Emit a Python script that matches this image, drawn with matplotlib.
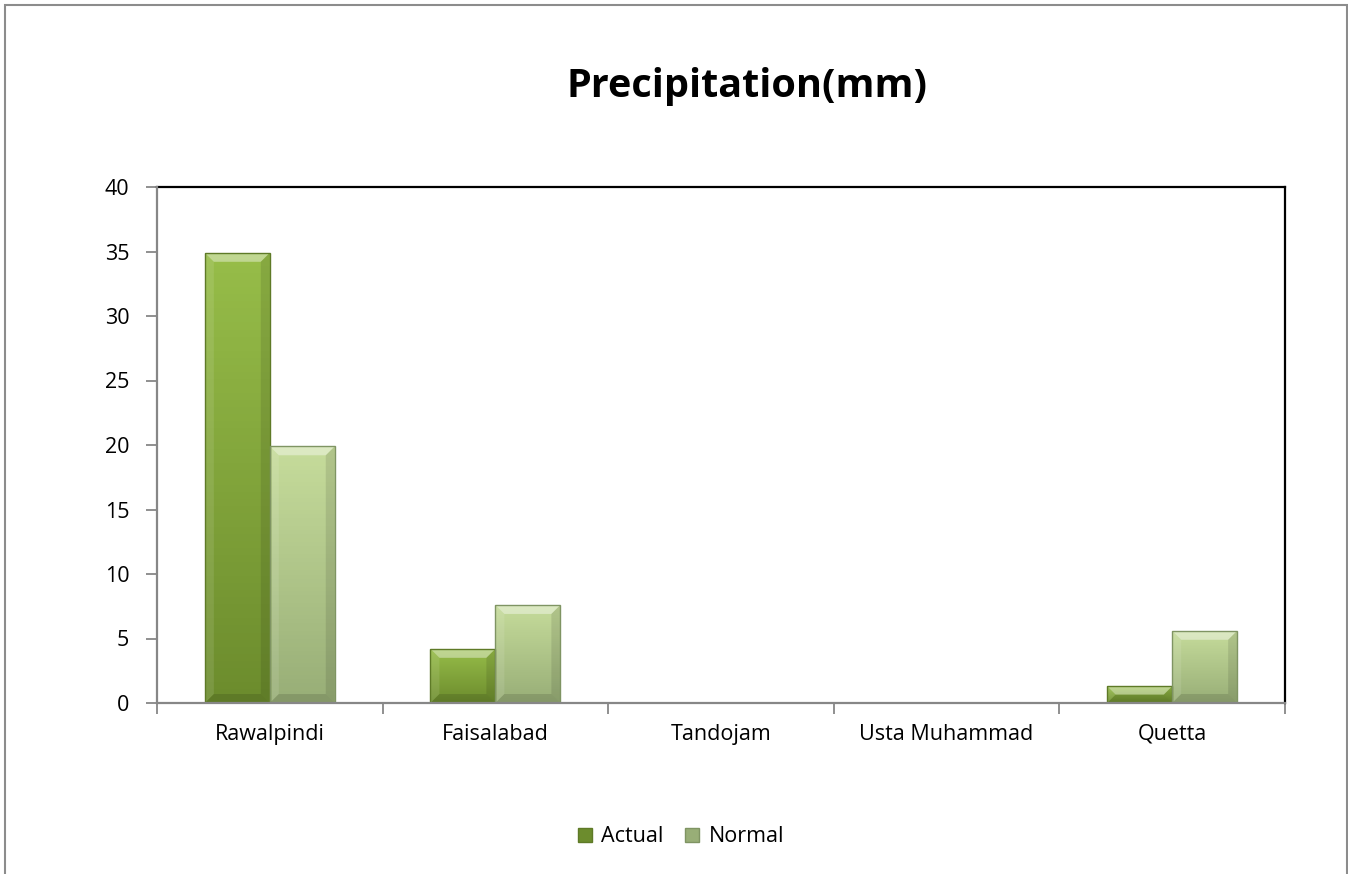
import numpy as np
import matplotlib
matplotlib.use("Agg")
import matplotlib.pyplot as plt
from matplotlib.patches import Polygon, Patch, Rectangle
from matplotlib.colors import LinearSegmentedColormap

plt.rcParams["font.family"] = ["Open Sans", "DejaVu Sans"]

stations = ["Rawalpindi", "Faisalabad", "Tandojam", "Usta Muhammad", "Quetta"]
actual = [34.9, 4.2, 0.0, 0.0, 1.3]
normal = [19.9, 7.6, 0.0, 0.0, 5.6]
yticks = [0, 5, 10, 15, 20, 25, 30, 35, 40]

# top / bottom / edge colours of the gradient fill
styles = {
    "Actual": ("#97bd49", "#6c8c2d", "#5e7a27"),
    "Normal": ("#c6dc9b", "#98ae77", "#7f9463"),
}

fig = plt.figure(figsize=(13.48, 8.74), dpi=100)
ax = fig.add_axes([157 / 1348, 1 - 703 / 874, (1285 - 157) / 1348, (703 - 187) / 874])

x = np.arange(len(stations))
w = 0.288
bars_a = ax.bar(x - w / 2, actual, w, color=styles["Actual"][1], linewidth=0, zorder=2)
bars_n = ax.bar(x + w / 2, normal, w, color=styles["Normal"][1], linewidth=0, zorder=2)

ax.set_xlim(-0.5, len(stations) - 0.5)
ax.set_ylim(0, 40)
fig.canvas.draw()


def shade(bars, key):
    top, bot, edge = styles[key]
    cmap = LinearSegmentedColormap.from_list(key, [bot, top])
    grad = np.linspace(0, 1, 64).reshape(-1, 1)
    to_data = ax.transData.inverted()
    for p in bars:
        if p.get_height() <= 0:
            continue
        x0, y0 = p.get_x(), p.get_y()
        x1, y1 = x0 + p.get_width(), y0 + p.get_height()
        im = ax.imshow(grad, extent=(x0, x1, y0, y1), origin="lower",
                       cmap=cmap, aspect="auto", zorder=3)
        im.set_clip_path(p)
        # bevel size in pixels converted to data units
        (px0, py0), (px1, py1) = ax.transData.transform([(x0, y0), (x1, y1)])
        d = min(9, (py1 - py0) / 2, (px1 - px0) / 2)
        (ix0, iy0), (ix1, iy1) = to_data.transform([(px0 + d, py0 + d), (px1 - d, py1 - d)])
        faces = [
            ([(x0, y1), (x1, y1), (ix1, iy1), (ix0, iy1)], "white", 0.40),
            ([(x0, y0), (x0, y1), (ix0, iy1), (ix0, iy0)], "white", 0.10),
            ([(x1, y0), (x1, y1), (ix1, iy1), (ix1, iy0)], "black", 0.10),
            ([(x0, y0), (x1, y0), (ix1, iy0), (ix0, iy0)], "black", 0.12),
        ]
        for pts, c, a in faces:
            ax.add_patch(Polygon(pts, closed=True, facecolor=c, alpha=a,
                                 linewidth=0, zorder=4))
        ax.add_patch(Rectangle((x0, y0), x1 - x0, y1 - y0, fill=False,
                               edgecolor=edge, linewidth=1.0, zorder=5))


shade(bars_a, "Actual")
shade(bars_n, "Normal")

ax.set_xlim(-0.5, len(stations) - 0.5)
ax.set_ylim(0, 40)
ax.set_yticks(yticks)
ax.set_xticks(x)
ax.set_xticklabels(stations)
ax.set_xticks(np.arange(len(stations) + 1) - 0.5, minor=True)
ax.tick_params(axis="x", which="major", length=0, pad=15, labelsize=15.5)
ax.tick_params(axis="x", which="minor", length=8, color="#878787", width=1.3,
               direction="out")
ax.tick_params(axis="y", length=8, color="#878787", width=1.3, pad=12,
               labelsize=15.5)

for side in ("top", "right"):
    ax.spines[side].set_color("black")
    ax.spines[side].set_linewidth(1.6)
for side in ("left", "bottom"):
    ax.spines[side].set_color("#878787")
    ax.spines[side].set_linewidth(1.6)
    ax.spines[side].set_zorder(6)

fig.text(747 / 1348, 1 - 87 / 874, "Precipitation(mm)", ha="center",
         va="center", fontsize=28.5, fontweight="bold")

handles = [
    Patch(facecolor=styles["Actual"][1], edgecolor=styles["Actual"][2], label="Actual"),
    Patch(facecolor=styles["Normal"][1], edgecolor=styles["Normal"][2], label="Normal"),
]
fig.legend(handles=handles, loc="center", bbox_to_anchor=(681 / 1348, 1 - 837 / 874),
           ncol=2, frameon=False, fontsize=15.5, handlelength=0.65,
           handleheight=0.65, handletextpad=0.45, columnspacing=1.0)

fig.add_artist(Rectangle((5 / 1348, -0.05), 1342 / 1348, 1.05 - 5 / 874,
                         transform=fig.transFigure, fill=False,
                         edgecolor="#8c8c8c", linewidth=1.5))

fig.savefig("out.png", dpi=100)
